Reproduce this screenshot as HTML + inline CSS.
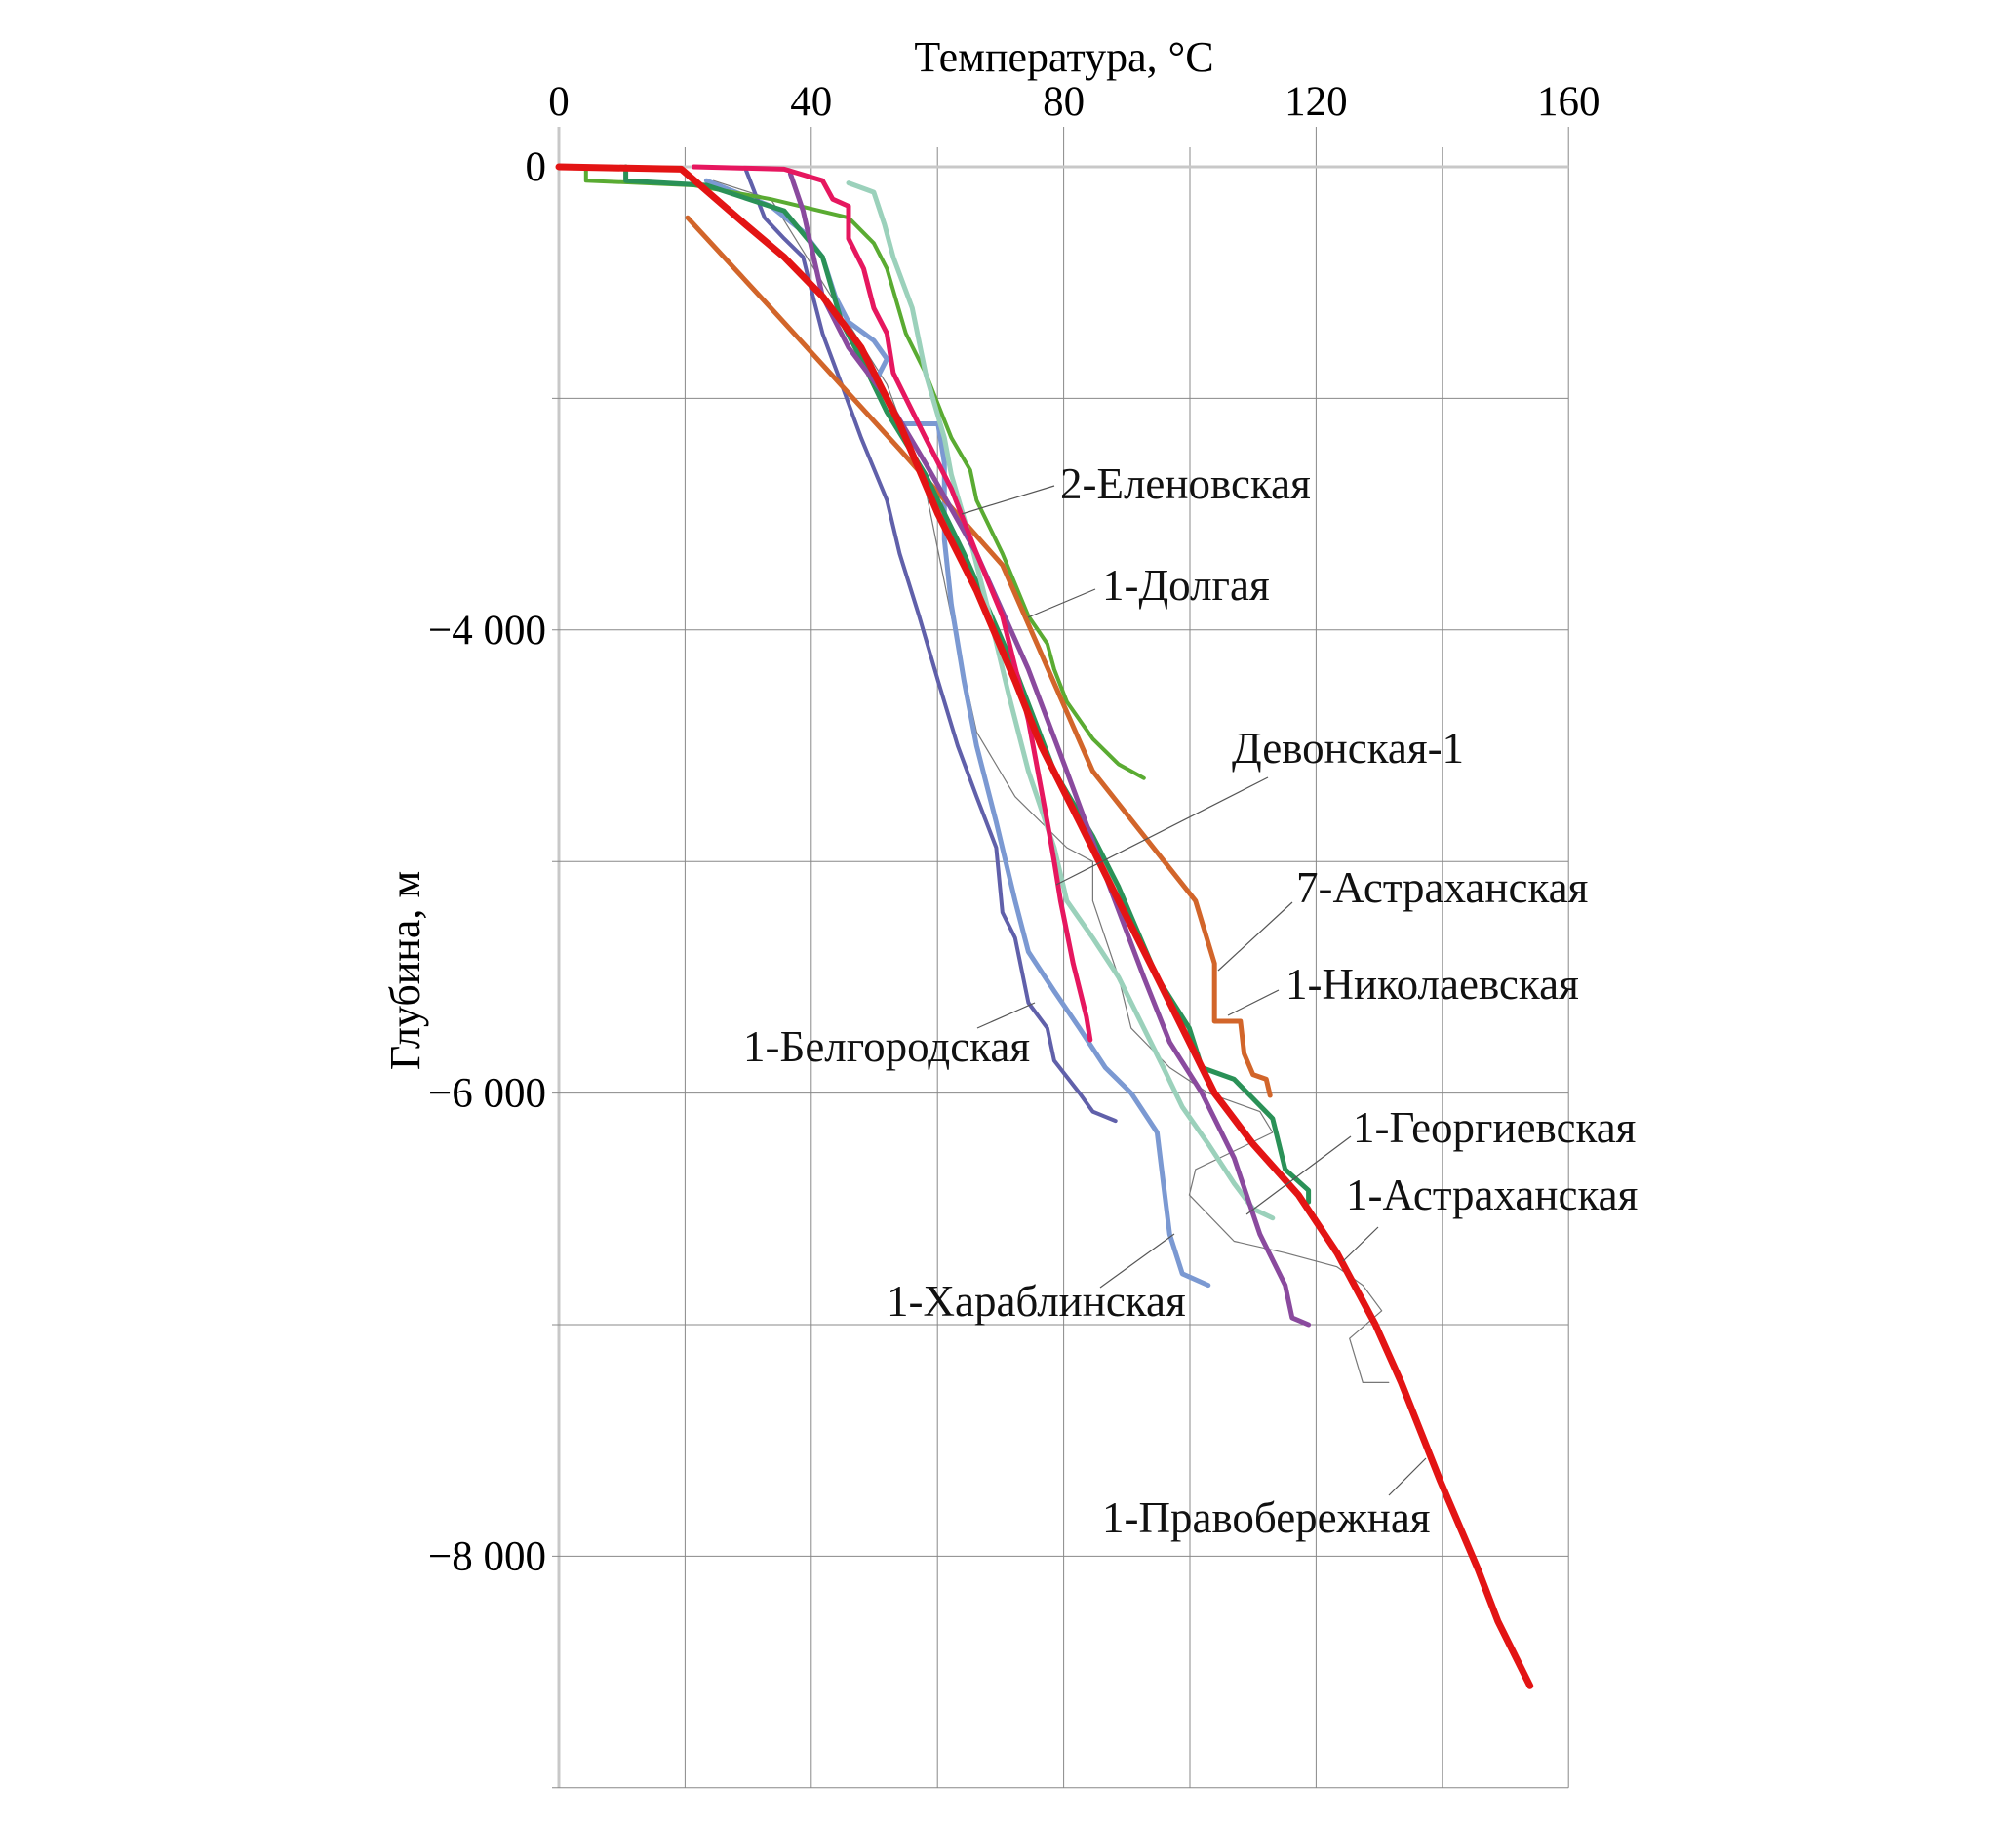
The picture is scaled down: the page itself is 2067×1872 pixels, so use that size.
<!DOCTYPE html>
<html><head><meta charset="utf-8"><style>
html,body{margin:0;padding:0;background:#fff;}
svg{display:block;font-family:"Liberation Serif",serif;}
</style></head><body>
<svg id="chart" width="2067" height="1872" viewBox="0 0 2067 1872" xmlns="http://www.w3.org/2000/svg">
<g id="grid"></g>
<g id="series"></g>
<g id="axes"></g>
<g id="labels" font-size="45" fill="#111">
<line x1="986" y1="527" x2="1081" y2="498" stroke="#555" stroke-width="1.2"/>
<text x="1087" y="511">2-Еленовская</text>
<line x1="1054" y1="633" x2="1123" y2="604" stroke="#555" stroke-width="1.2"/>
<text x="1130" y="615">1-Долгая</text>
<line x1="1083" y1="907" x2="1300" y2="797" stroke="#555" stroke-width="1.2"/>
<text x="1263" y="782">Девонская-1</text>
<line x1="1249" y1="995" x2="1325" y2="925" stroke="#555" stroke-width="1.2"/>
<text x="1329" y="925">7-Астраханская</text>
<line x1="1259" y1="1041" x2="1311" y2="1015" stroke="#555" stroke-width="1.2"/>
<text x="1318" y="1024">1-Николаевская</text>
<line x1="1002" y1="1054" x2="1061" y2="1028" stroke="#555" stroke-width="1.2"/>
<text x="762" y="1088">1-Белгородская</text>
<line x1="1278" y1="1245" x2="1385" y2="1165" stroke="#555" stroke-width="1.2"/>
<text x="1387" y="1171">1-Георгиевская</text>
<line x1="1377" y1="1293" x2="1413" y2="1258" stroke="#555" stroke-width="1.2"/>
<text x="1380" y="1240">1-Астраханская</text>
<line x1="1128" y1="1320" x2="1204" y2="1265" stroke="#555" stroke-width="1.2"/>
<text x="909" y="1349">1-Хараблинская</text>
<line x1="1424" y1="1533" x2="1462" y2="1495" stroke="#555" stroke-width="1.2"/>
<text x="1130" y="1571">1-Правобережная</text>
</g>
</svg>
<script>
const NS='http://www.w3.org/2000/svg';
const xTicks=[0,40,80,120,160];
const xTickLabels=['0','40','80','120','160'];
const yTicks=[-2000,-4000,-6000,-8000];
const yTickLabels=['0','\u22124 000','\u22126 000','\u22128 000'];
const yGrid=[-2000,-3000,-4000,-5000,-6000,-7000,-8000,-9000];
const xGrid=[0,20,40,60,80,100,120,140,160];

const redT=[0,19.4,22.4,29.6,35.7,41.8,47.9,54,60.1,66.2,72.3,76.4,82.5,88.7,94.8,99.9,103.9,110,117.2,123.3,129.4,133.5,139.6,145.7,148.8,153.9];
const redD=[-2000,-2010,-2080,-2250,-2390,-2560,-2780,-3110,-3500,-3830,-4220,-4500,-4830,-5170,-5500,-5780,-6000,-6220,-6440,-6690,-7000,-7250,-7670,-8060,-8280,-8560];
const purpleT=[36.7,38.7,41.8,45.9,52,58.1,66.2,74.4,80.5,86.6,92.7,96.8,101.9,107,111.1,115.1,116.2,118.8];
const purpleD=[-2030,-2190,-2560,-2780,-3000,-3280,-3670,-4170,-4610,-5060,-5500,-5780,-6000,-6280,-6610,-6830,-6970,-7000];
const dgreenT=[10.6,10.6,23.4,35.7,41.8,44.8,47.9,52,58.1,64.2,72.3,78.5,84.6,88.7,94.8,99.9,101.9,107,113.1,115.1,118.8,118.8];
const dgreenD=[-2000,-2060,-2080,-2190,-2390,-2670,-2830,-3060,-3330,-3670,-4170,-4610,-4890,-5110,-5500,-5720,-5890,-5940,-6110,-6330,-6420,-6470];
const lgreenT=[4.3,4.3,21.4,33.6,45.9,49.9,52,55,58.1,62.2,65.2,66.2,70.3,74.4,77.4,78.5,80.5,84.6,88.7,92.7];
const lgreenD=[-2000,-2060,-2080,-2140,-2220,-2330,-2440,-2720,-2890,-3170,-3310,-3440,-3670,-3940,-4060,-4170,-4310,-4470,-4580,-4640];
const mintT=[45.9,49.9,51.6,53,56,58.1,61.1,62.2,65.2,68.3,71.3,74.4,78.5,80.5,84.6,88.7,92.7,95.8,98.8,102.9,107,110,113.1];
const mintD=[-2070,-2110,-2250,-2390,-2610,-2890,-3170,-3330,-3610,-3940,-4280,-4610,-4940,-5170,-5330,-5500,-5720,-5890,-6060,-6220,-6390,-6500,-6540];
const pinkT=[21.4,35.7,41.8,43.4,45.9,45.9,48.3,49.9,52,53,55,58.1,62.2,66.2,70.3,74.4,77.4,78.5,79.5,81.5,83.6,84.2];
const pinkD=[-2000,-2010,-2060,-2140,-2170,-2310,-2440,-2610,-2720,-2890,-3000,-3170,-3390,-3670,-3940,-4390,-4830,-5000,-5170,-5440,-5670,-5770];
const blueT=[23.4,33.6,38.7,41.8,43.8,45.9,49.9,52,49.9,52,54,60.1,61.1,61.1,62.2,64.2,66.2,69.3,72.3,74.4,78.5,82.5,86.6,90.7,94.8,95.8,96.8,98.8,102.9];
const blueD=[-2060,-2170,-2280,-2390,-2560,-2670,-2750,-2830,-2940,-3000,-3110,-3110,-3280,-3610,-3890,-4220,-4500,-4830,-5170,-5390,-5560,-5720,-5890,-6000,-6170,-6390,-6610,-6780,-6830];
const slateT=[29.6,32.6,35.7,38.7,39.7,41.8,44.8,47.9,52,54,57.1,60.1,63.2,66.2,69.3,70.3,72.3,74.4,77.4,78.5,82.5,84.6,88.2];
const slateD=[-2010,-2220,-2310,-2390,-2500,-2720,-2940,-3170,-3440,-3670,-3940,-4220,-4500,-4720,-4940,-5220,-5330,-5610,-5720,-5860,-6000,-6080,-6120];
const orangeT=[20.4,33.6,54,70.3,84.6,100.9,103.9,103.9,108,108.6,110,112.1,112.7];
const orangeD=[-2220,-2610,-3220,-3720,-4610,-5170,-5440,-5690,-5690,-5830,-5920,-5940,-6010];
const grayT=[24.5,33.6,41.8,52,58.1,62.2,66.2,72.3,80.5,84.6,84.6,88.7,90.7,96.8,102.9,111.1,113.1,107,100.9,99.9,107,115.1,123.3,127.4,130.4,125.3,127.4,131.5];
const grayD=[-2060,-2140,-2500,-2940,-3390,-3940,-4440,-4720,-4940,-5000,-5170,-5500,-5720,-5890,-6000,-6080,-6170,-6250,-6330,-6440,-6640,-6690,-6750,-6830,-6940,-7060,-7250,-7250];

function xs(t){return 573+t*6.47;}
function ys(d){return 171+(-2000-d)/1000*237.4;}

const grid=document.getElementById('grid');
xGrid.forEach(t=>{
  const l=document.createElementNS(NS,'line');
  
  
  const top=(t%40===0)?130:151;
  l.setAttribute('x1',xs(t));l.setAttribute('x2',xs(t));
  l.setAttribute('y1',top);l.setAttribute('y2',ys(-9000));
  l.setAttribute('stroke',t===0?'#c8c8c8':'#888');
  l.setAttribute('stroke-width',t===0?3:1);
  grid.appendChild(l);
});
yGrid.forEach(d=>{
  const l=document.createElementNS(NS,'line');
  
  
  l.setAttribute('x1',d===-2000?573:566);l.setAttribute('x2',xs(160));
  l.setAttribute('y1',ys(d));l.setAttribute('y2',ys(d));
  const thick=(d===-2000);
  l.setAttribute('stroke',thick?'#c8c8c8':'#888');
  l.setAttribute('stroke-width',thick?3:1);
  grid.appendChild(l);
});

const series=[
 ['series-gray-thin',grayT,grayD,'#777',1.2],
 ['series-1-khareblinskaya',blueT,blueD,'#7b99d2',5],
 ['series-1-belgorodskaya',slateT,slateD,'#6060aa',4],
 ['series-2-elenovskaya',lgreenT,lgreenD,'#5aab32',4],
 ['series-orange',orangeT,orangeD,'#d2652a',5],
 ['series-1-georgievskaya',dgreenT,dgreenD,'#2a9157',5],
 ['series-mint',mintT,mintD,'#9bd1bb',5],
 ['series-purple',purpleT,purpleD,'#8a4a9e',5],
 ['series-pink',pinkT,pinkD,'#e6175f',5],
 ['series-1-pravoberezhnaya',redT,redD,'#e31414',7]
];
const sg=document.getElementById('series');
series.forEach(s=>{
  const p=document.createElementNS(NS,'polyline');
  
  
  p.setAttribute('points',s[1].map((t,i)=>xs(t).toFixed(1)+','+ys(s[2][i]).toFixed(1)).join(' '));
  p.setAttribute('fill','none');
  p.setAttribute('stroke',s[3]);
  p.setAttribute('stroke-width',s[4]);
  p.setAttribute('stroke-linejoin','round');
  p.setAttribute('stroke-linecap','round');
  sg.appendChild(p);
});

const ax=document.getElementById('axes');
xTicks.forEach((t,i)=>{
  const tx=document.createElementNS(NS,'text');
  
  
  tx.setAttribute('x',xs(t));tx.setAttribute('y',118);
  tx.setAttribute('text-anchor','middle');tx.setAttribute('font-size','43');
  tx.textContent=xTickLabels[i];ax.appendChild(tx);
});
yTicks.forEach((d,i)=>{
  const tx=document.createElementNS(NS,'text');
  
  
  tx.setAttribute('x',560);tx.setAttribute('y',ys(d)+14);
  tx.setAttribute('text-anchor','end');tx.setAttribute('font-size','43');
  tx.textContent=yTickLabels[i];ax.appendChild(tx);
});
const xt=document.createElementNS(NS,'text');


xt.setAttribute('x',1091);xt.setAttribute('y',73);
xt.setAttribute('text-anchor','middle');xt.setAttribute('font-size','44');
xt.textContent='Температура, °С';ax.appendChild(xt);
const yt=document.createElementNS(NS,'text');


yt.setAttribute('transform','translate(430,995) rotate(-90)');
yt.setAttribute('text-anchor','middle');yt.setAttribute('font-size','44');
yt.textContent='Глубина, м';ax.appendChild(yt);
</script>
</body></html>
